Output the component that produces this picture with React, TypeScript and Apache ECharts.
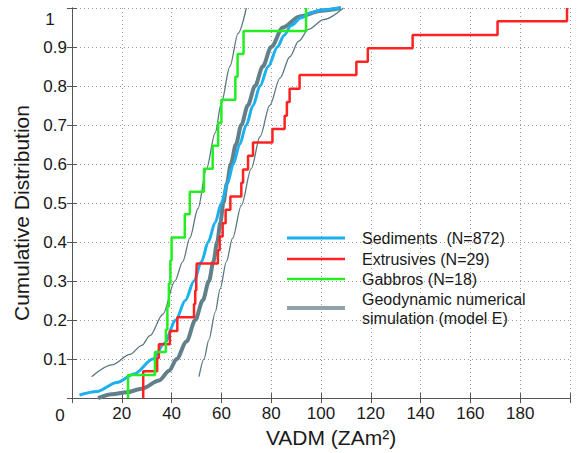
import React, { useEffect, useRef } from "react";
import * as echarts from "echarts";

// ---- Data ----
const X_MIN = 0;
const X_MAX = 200;
const X_INTERVAL = 20;
const Y_MIN = 0;
const Y_MAX = 1;
const Y_INTERVAL = 0.1;

// Sediments (N=872) – empirical CDF (dense, drawn as a line)
const sedimentsV = [3, 10, 18, 25, 32.5, 37, 41.7, 45.5, 49, 52, 54.7, 57.5, 60, 62.4, 64.8, 67.3, 70, 72.7, 75.5, 78.8, 82.5, 85.2, 88, 92, 96, 100, 108];
const sedimentsC = [0.008, 0.017, 0.04, 0.062, 0.1, 0.14, 0.2, 0.25, 0.3, 0.35, 0.4, 0.45, 0.5, 0.55, 0.6, 0.65, 0.7, 0.75, 0.8, 0.85, 0.9, 0.93, 0.955, 0.975, 0.988, 0.995, 1.0];

// Extrusives (N=29) – step positions and cumulative levels
const extrusivesV = [28.6, 28.6, 34.2, 34.9, 39.3, 42.3, 49.0, 49.5, 49.9, 50.1, 58.6, 59.3, 60.5, 61.7, 63.6, 68.0, 68.7, 70.7, 72.7, 80.5, 85.4, 86.3, 87.4, 91.4, 114.2, 118.8, 136.8, 170.9, 198.8];
const extrusivesC = [0.034, 0.069, 0.103, 0.138, 0.172, 0.207, 0.241, 0.276, 0.31, 0.345, 0.379, 0.414, 0.448, 0.483, 0.517, 0.552, 0.586, 0.621, 0.655, 0.69, 0.724, 0.759, 0.793, 0.828, 0.862, 0.897, 0.931, 0.966, 1.0];

// Gabbros (N=18) – step positions and cumulative levels
const gabbrosV = [22.5, 33.3, 37.7, 38.3, 38.9, 39.5, 40.0, 45.3, 47.3, 53.0, 56.5, 58.7, 60.0, 65.6, 66.5, 68.9, 94.0];
const gabbrosC = [0.059, 0.118, 0.176, 0.235, 0.294, 0.353, 0.412, 0.471, 0.529, 0.588, 0.647, 0.706, 0.765, 0.824, 0.882, 0.941, 1.0];

// Geodynamic numerical simulation (model E) – median curve
const modelV = [10.5, 16, 22, 28, 35, 39, 42, 46, 49.5, 52.5, 55, 56.8, 58.3, 59.6, 60.8, 62.2, 63.8, 65.8, 68, 70.6, 73.5, 76.6, 80, 84.7, 91.4, 100, 108];
const modelC = [0, 0.01, 0.015, 0.024, 0.045, 0.07, 0.1, 0.145, 0.2, 0.25, 0.3, 0.35, 0.4, 0.45, 0.5, 0.55, 0.6, 0.65, 0.7, 0.75, 0.8, 0.85, 0.9, 0.95, 0.978, 0.993, 1.0];

// Model envelope – left (upper) bound
const upperV = [7.9, 16, 23.3, 28, 31.3, 36.5, 41.3, 44.5, 47.3, 50.6, 54, 57.5, 60, 63.4, 66.7, 70];
const upperC = [0.055, 0.085, 0.112, 0.135, 0.16, 0.215, 0.3, 0.35, 0.41, 0.486, 0.588, 0.68, 0.757, 0.85, 0.935, 1.0];

// Model envelope – right (lower) bound
const lowerV = [51, 53, 55, 57.5, 59.5, 62, 64.5, 68, 72, 75.5, 79.4, 83.5, 87.5, 91, 95, 101, 109];
const lowerC = [0.055, 0.1, 0.15, 0.22, 0.28, 0.35, 0.41, 0.494, 0.588, 0.67, 0.75, 0.82, 0.875, 0.915, 0.945, 0.97, 1.0];

const legendLabels = ["Sediments  (N=872)", "Extrusives (N=29)", "Gabbros (N=18)", "Geodynamic numerical", "simulation (model E)"];

const xTitle = "VADM (ZAm²)";
const yTitle = "Cumulative Distribution";

// ---- Styles ----
const FONT = "'Liberation Sans', Arial, Helvetica, sans-serif";
const C_CYAN = "#1cb0ee";
const C_RED = "#ff2222";
const C_GREEN = "#22ee22";
const C_GRAY = "#63808a";
const C_GRAY_THIN = "#5a7880";
const C_LEGEND_GRAY = "#8ea3a7";
const C_AXIS = "#555555";
const C_TEXT = "#1a1a1a";

const zip = (xs: number[], ys: number[]) => xs.map((x, i) => [x, ys[i]]);

export default function App() {
  const ref = useRef<HTMLDivElement>(null);

  useEffect(() => {
    if (!ref.current) return;
    const chart = echarts.init(ref.current, null, { renderer: "svg" });

    const extrusiveData = [[extrusivesV[0], 0], ...zip(extrusivesV, extrusivesC)];
    const gabbroData = [[gabbrosV[0], 0], ...zip(gabbrosV, gabbrosC)];

    const gridLine = { show: true, lineStyle: { color: "#9a9a9a", type: [1, 3] as any, width: 1 } };

    const legendY = [238, 259, 279, 308];
    const legendColors = [C_CYAN, C_RED, C_GREEN, C_LEGEND_GRAY];
    const legendWidths = [3, 2.5, 2.5, 4];
    const textY = [238, 259, 279, 299, 318];

    const graphics: any[] = [];
    legendY.forEach((y, i) => {
      graphics.push({
        type: "line",
        shape: { x1: 287, y1: y, x2: 345, y2: y },
        style: { stroke: legendColors[i], lineWidth: legendWidths[i] },
        z: 100,
      });
    });
    legendLabels.forEach((t, i) => {
      graphics.push({
        type: "text",
        x: 362,
        y: textY[i],
        style: { text: t, fill: C_TEXT, font: `16px ${FONT}`, textAlign: "left", textVerticalAlign: "middle" },
        z: 100,
      });
    });
    // special corner tick labels
    graphics.push({
      type: "text",
      x: 50,
      y: 19,
      style: { text: "1", fill: C_TEXT, font: `17px ${FONT}`, textAlign: "center", textVerticalAlign: "middle" },
    });
    graphics.push({
      type: "text",
      x: 60,
      y: 415,
      style: { text: "0", fill: C_TEXT, font: `17px ${FONT}`, textAlign: "center", textVerticalAlign: "middle" },
    });

    const option: any = {
      animation: false,
      backgroundColor: "#ffffff",
      grid: { left: 72, right: 7, top: 8, bottom: 52, containLabel: false },
      xAxis: [
        {
          type: "value",
          min: X_MIN,
          max: X_MAX,
          interval: X_INTERVAL,
          position: "bottom",
          name: xTitle,
          nameLocation: "middle",
          nameGap: 27,
          nameTextStyle: { fontFamily: FONT, fontSize: 21, color: C_TEXT, padding: [0, 0, 0, 20] },
          axisLine: { show: true, lineStyle: { color: C_AXIS, width: 1 } },
          axisTick: { show: true, inside: true, length: 5, lineStyle: { color: C_AXIS } },
          axisLabel: {
            fontFamily: FONT,
            fontSize: 17,
            color: C_TEXT,
            margin: 7,
            formatter: (v: number) => (v === X_MIN || v === X_MAX ? "" : String(v)),
          },
          splitLine: gridLine,
        },
        {
          type: "value",
          min: X_MIN,
          max: X_MAX,
          interval: X_INTERVAL,
          position: "top",
          axisLine: { show: true, lineStyle: { color: C_AXIS, width: 1 } },
          axisTick: { show: true, inside: true, length: 5, lineStyle: { color: C_AXIS } },
          axisLabel: { show: false },
          splitLine: { show: false },
        },
      ],
      yAxis: [
        {
          type: "value",
          min: Y_MIN,
          max: Y_MAX,
          interval: Y_INTERVAL,
          position: "left",
          name: yTitle,
          nameLocation: "middle",
          nameGap: 37,
          nameTextStyle: { fontFamily: FONT, fontSize: 21, color: C_TEXT, padding: [0, 20, 0, 0] },
          axisLine: { show: true, lineStyle: { color: C_AXIS, width: 1 } },
          axisTick: { show: true, inside: true, length: 5, lineStyle: { color: C_AXIS } },
          axisLabel: {
            fontFamily: FONT,
            fontSize: 17,
            color: C_TEXT,
            margin: 5,
            formatter: (v: number) => (v <= Y_MIN + 1e-9 || v >= Y_MAX - 1e-9 ? "" : v.toFixed(1)),
          },
          splitLine: gridLine,
        },
        {
          type: "value",
          min: Y_MIN,
          max: Y_MAX,
          interval: Y_INTERVAL,
          position: "right",
          axisLine: { show: true, lineStyle: { color: C_AXIS, width: 1 } },
          axisTick: { show: true, inside: true, length: 5, lineStyle: { color: C_AXIS } },
          axisLabel: { show: false },
          splitLine: { show: false },
        },
      ],
      series: [
        {
          name: "Model upper bound",
          type: "line",
          data: zip(upperV, upperC),
          showSymbol: false,
          smooth: 0.3,
          smoothMonotone: "x",
          lineStyle: { color: C_GRAY_THIN, width: 1.3 },
          z: 2,
        },
        {
          name: "Model lower bound",
          type: "line",
          data: zip(lowerV, lowerC),
          showSymbol: false,
          smooth: 0.3,
          smoothMonotone: "x",
          lineStyle: { color: C_GRAY_THIN, width: 1.3 },
          z: 2,
        },
        {
          name: "Geodynamic numerical simulation (model E)",
          type: "line",
          data: zip(modelV, modelC),
          showSymbol: false,
          smooth: 0.3,
          smoothMonotone: "x",
          lineStyle: { color: C_GRAY, width: 4 },
          z: 3,
        },
        {
          name: "Sediments (N=872)",
          type: "line",
          data: zip(sedimentsV, sedimentsC),
          showSymbol: false,
          smooth: 0.3,
          smoothMonotone: "x",
          lineStyle: { color: C_CYAN, width: 3 },
          z: 4,
        },
        {
          name: "Extrusives (N=29)",
          type: "line",
          step: "end",
          data: extrusiveData,
          showSymbol: false,
          lineStyle: { color: C_RED, width: 2.5 },
          z: 5,
        },
        {
          name: "Gabbros (N=18)",
          type: "line",
          step: "end",
          data: gabbroData,
          showSymbol: false,
          lineStyle: { color: C_GREEN, width: 2.5 },
          z: 6,
        },
      ],
      graphic: graphics,
    };

    chart.setOption(option);
    return () => chart.dispose();
  }, []);

  return (
    <div
      ref={ref}
      style={{ position: "absolute", left: 0, top: 0, width: 577, height: 453, background: "#fff" }}
    />
  );
}
